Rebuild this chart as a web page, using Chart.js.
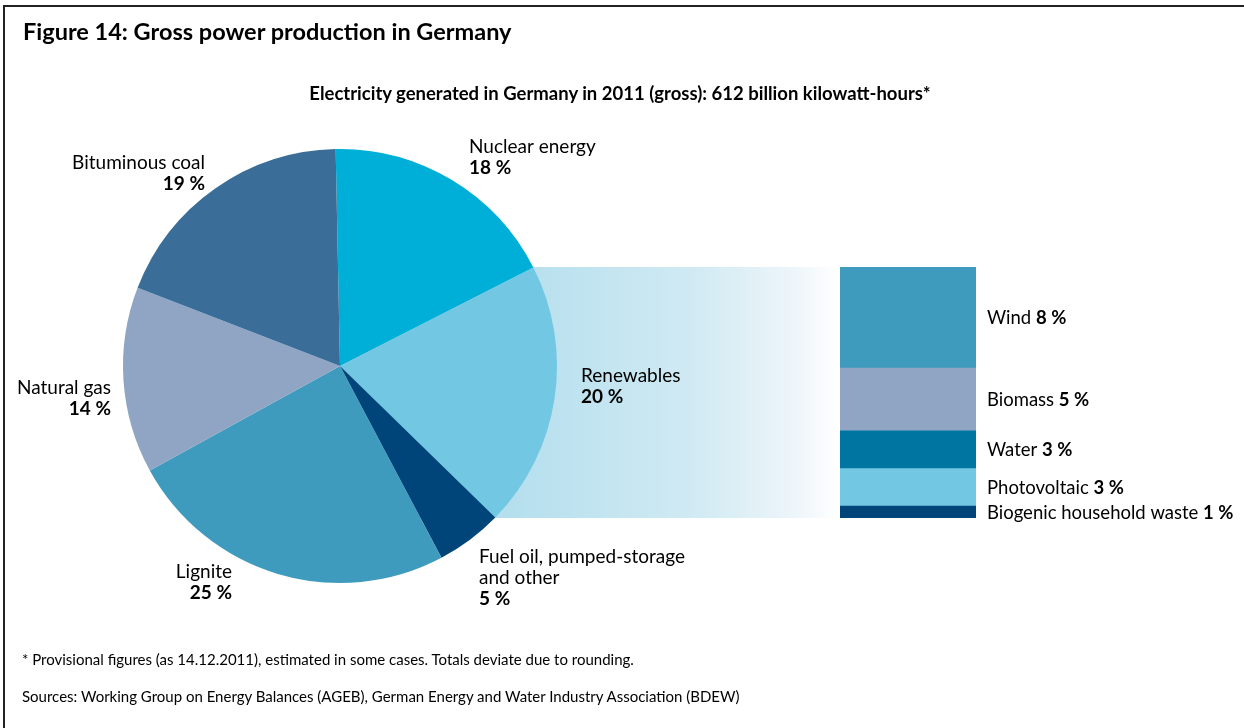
<!DOCTYPE html>
<html>
<head>
<meta charset="utf-8">
<script src="https://cdn.jsdelivr.net/npm/chart.js@4.4.1/dist/chart.umd.min.js"></script>
<style>
  body { margin: 0; background: #fff; }
  #wrap { position: relative; width: 1244px; height: 728px; overflow: hidden; font-family: Lato, sans-serif; color: #000; }
  #frame { position: absolute; left: 3px; top: 5px; right: 0; bottom: 0; border-left: 2px solid #222; border-top: 2px solid #222; }
  canvas { position: absolute; left: 0; top: 0; }
  .txt { position: absolute; line-height: 1; white-space: nowrap; }
  #title { left: 23px; top: 20px; font-size: 23.5px; font-weight: 700; }
  #subtitle { left: 0; width: 1240px; text-align: center; top: 84px; font-size: 18.5px; font-weight: 700; }
  #note { left: 22px; top: 652px; font-size: 15px; }
  #source { left: 22px; top: 689px; font-size: 15px; }
</style>
</head>
<body>
<div id="wrap">
  <div id="frame"></div>
  <canvas id="barChart" width="1244" height="728"></canvas>
  <canvas id="pieChart" width="1244" height="728"></canvas>
  <div class="txt" id="title">Figure 14: Gross power production in Germany</div>
  <div class="txt" id="subtitle">Electricity generated in Germany in 2011 (gross): 612 billion kilowatt-hours*</div>
  <div class="txt" id="note">* Provisional figures (as 14.12.2011), estimated in some cases. Totals deviate due to rounding.</div>
  <div class="txt" id="source">Sources: Working Group on Energy Balances (AGEB), German Energy and Water Industry Association (BDEW)</div>
</div>
<script>
// pie: share of gross production, %
const pieLabels = ['Nuclear energy', 'Renewables', 'Fuel oil, pumped-storage\nand other', 'Lignite', 'Natural gas', 'Bituminous coal'];
const pieValues = [18, 20, 5, 25, 14, 19];
const pieColors = ['#00afd7', '#72c7e2', '#00457a', '#3f9bbd', '#8fa5c3', '#3a6d98'];

// renewables breakdown, %
const renewLabels = ['Wind', 'Biomass', 'Water', 'Photovoltaic', 'Biogenic household waste'];
const renewValues = [8, 5, 3, 3, 1];
const renewColors = ['#3f9bbd', '#8fa5c3', '#0075a2', '#72c7e2', '#00457a'];

const FONT = 'Lato, sans-serif';

// where the pie labels sit (first line baseline)
const pieLabelPos = [
    {x: 469, y: 153, align: 'left'},
    {x: 581, y: 382, align: 'left'},
    {x: 479, y: 563, align: 'left'},
    {x: 232, y: 578, align: 'right'},
    {x: 111, y: 394, align: 'right'},
    {x: 205, y: 169, align: 'right'}
];

const pieLabelPlugin = {
    id: 'pieLabels',
    afterDatasetsDraw(chart) {
        const ctx = chart.ctx;
        ctx.save();
        ctx.fillStyle = '#000';
        ctx.textBaseline = 'alphabetic';
        pieLabels.forEach((label, i) => {
            const pos = pieLabelPos[i];
            ctx.textAlign = pos.align;
            let y = pos.y;
            ctx.font = '19px ' + FONT;
            label.split('\n').forEach(line => {
                ctx.fillText(line, pos.x, y);
                y += 21;
            });
            ctx.font = 'bold 19px ' + FONT;
            ctx.fillText(pieValues[i] + ' %', pos.x, y);
        });
        ctx.restore();
    }
};

const pieChart = new Chart(document.getElementById('pieChart'), {
    type: 'pie',
    plugins: [pieLabelPlugin],
    data: {
        labels: pieLabels,
        datasets: [{
            data: pieValues,
            backgroundColor: pieColors,
            borderWidth: 0
        }]
    },
    options: {
        responsive: false,
        animation: false,
        rotation: -1.15,
        layout: {padding: {left: 123, right: 687, top: 149, bottom: 145}},
        plugins: {
            legend: {display: false},
            tooltip: {enabled: false}
        }
    }
});

// band from the renewables slice to the breakdown bar
const bandPlugin = {
    id: 'band',
    beforeDatasetsDraw(chart) {
        const ctx = chart.ctx;
        const area = chart.chartArea;
        const arc = pieChart.getDatasetMeta(0).data[1];
        const x0 = arc.x;
        const gx = arc.x + arc.outerRadius * 0.8;
        const grad = ctx.createLinearGradient(gx, 0, area.left, 0);
        grad.addColorStop(0, '#b6dfee');
        grad.addColorStop(0.55, '#d0eaf3');
        grad.addColorStop(0.85, '#ecf5f9');
        grad.addColorStop(1, '#ffffff');
        ctx.save();
        ctx.fillStyle = grad;
        ctx.fillRect(x0, area.top, area.left - x0, area.bottom - area.top);
        ctx.restore();
    },
    afterDatasetsDraw(chart) {
        const ctx = chart.ctx;
        const x = chart.chartArea.right + 11;
        ctx.save();
        ctx.fillStyle = '#000';
        ctx.textAlign = 'left';
        ctx.textBaseline = 'alphabetic';
        renewLabels.forEach((label, i) => {
            const bar = chart.getDatasetMeta(i).data[0];
            const y = (bar.y + bar.base) / 2 + 7;
            ctx.font = '18.5px ' + FONT;
            const txt = label + ' ';
            ctx.fillText(txt, x, y);
            const w = ctx.measureText(txt).width;
            ctx.font = 'bold 18.5px ' + FONT;
            ctx.fillText(renewValues[i] + ' %', x + w, y);
        });
        ctx.restore();
    }
};

const renewTotal = renewValues.reduce((a, b) => a + b, 0);

new Chart(document.getElementById('barChart'), {
    type: 'bar',
    plugins: [bandPlugin],
    data: {
        labels: ['Renewables'],
        datasets: renewLabels.map((label, i) => ({
            label: label,
            data: [renewValues[i]],
            backgroundColor: renewColors[i],
            borderWidth: 0,
            barPercentage: 1,
            categoryPercentage: 1
        }))
    },
    options: {
        responsive: false,
        animation: false,
        layout: {padding: {left: 840, right: 268, top: 267, bottom: 210}},
        scales: {
            x: {display: false, stacked: true},
            y: {display: false, stacked: true, reverse: true, min: 0, max: renewTotal}
        },
        plugins: {
            legend: {display: false},
            tooltip: {enabled: false}
        }
    }
});
</script>
</body>
</html>
